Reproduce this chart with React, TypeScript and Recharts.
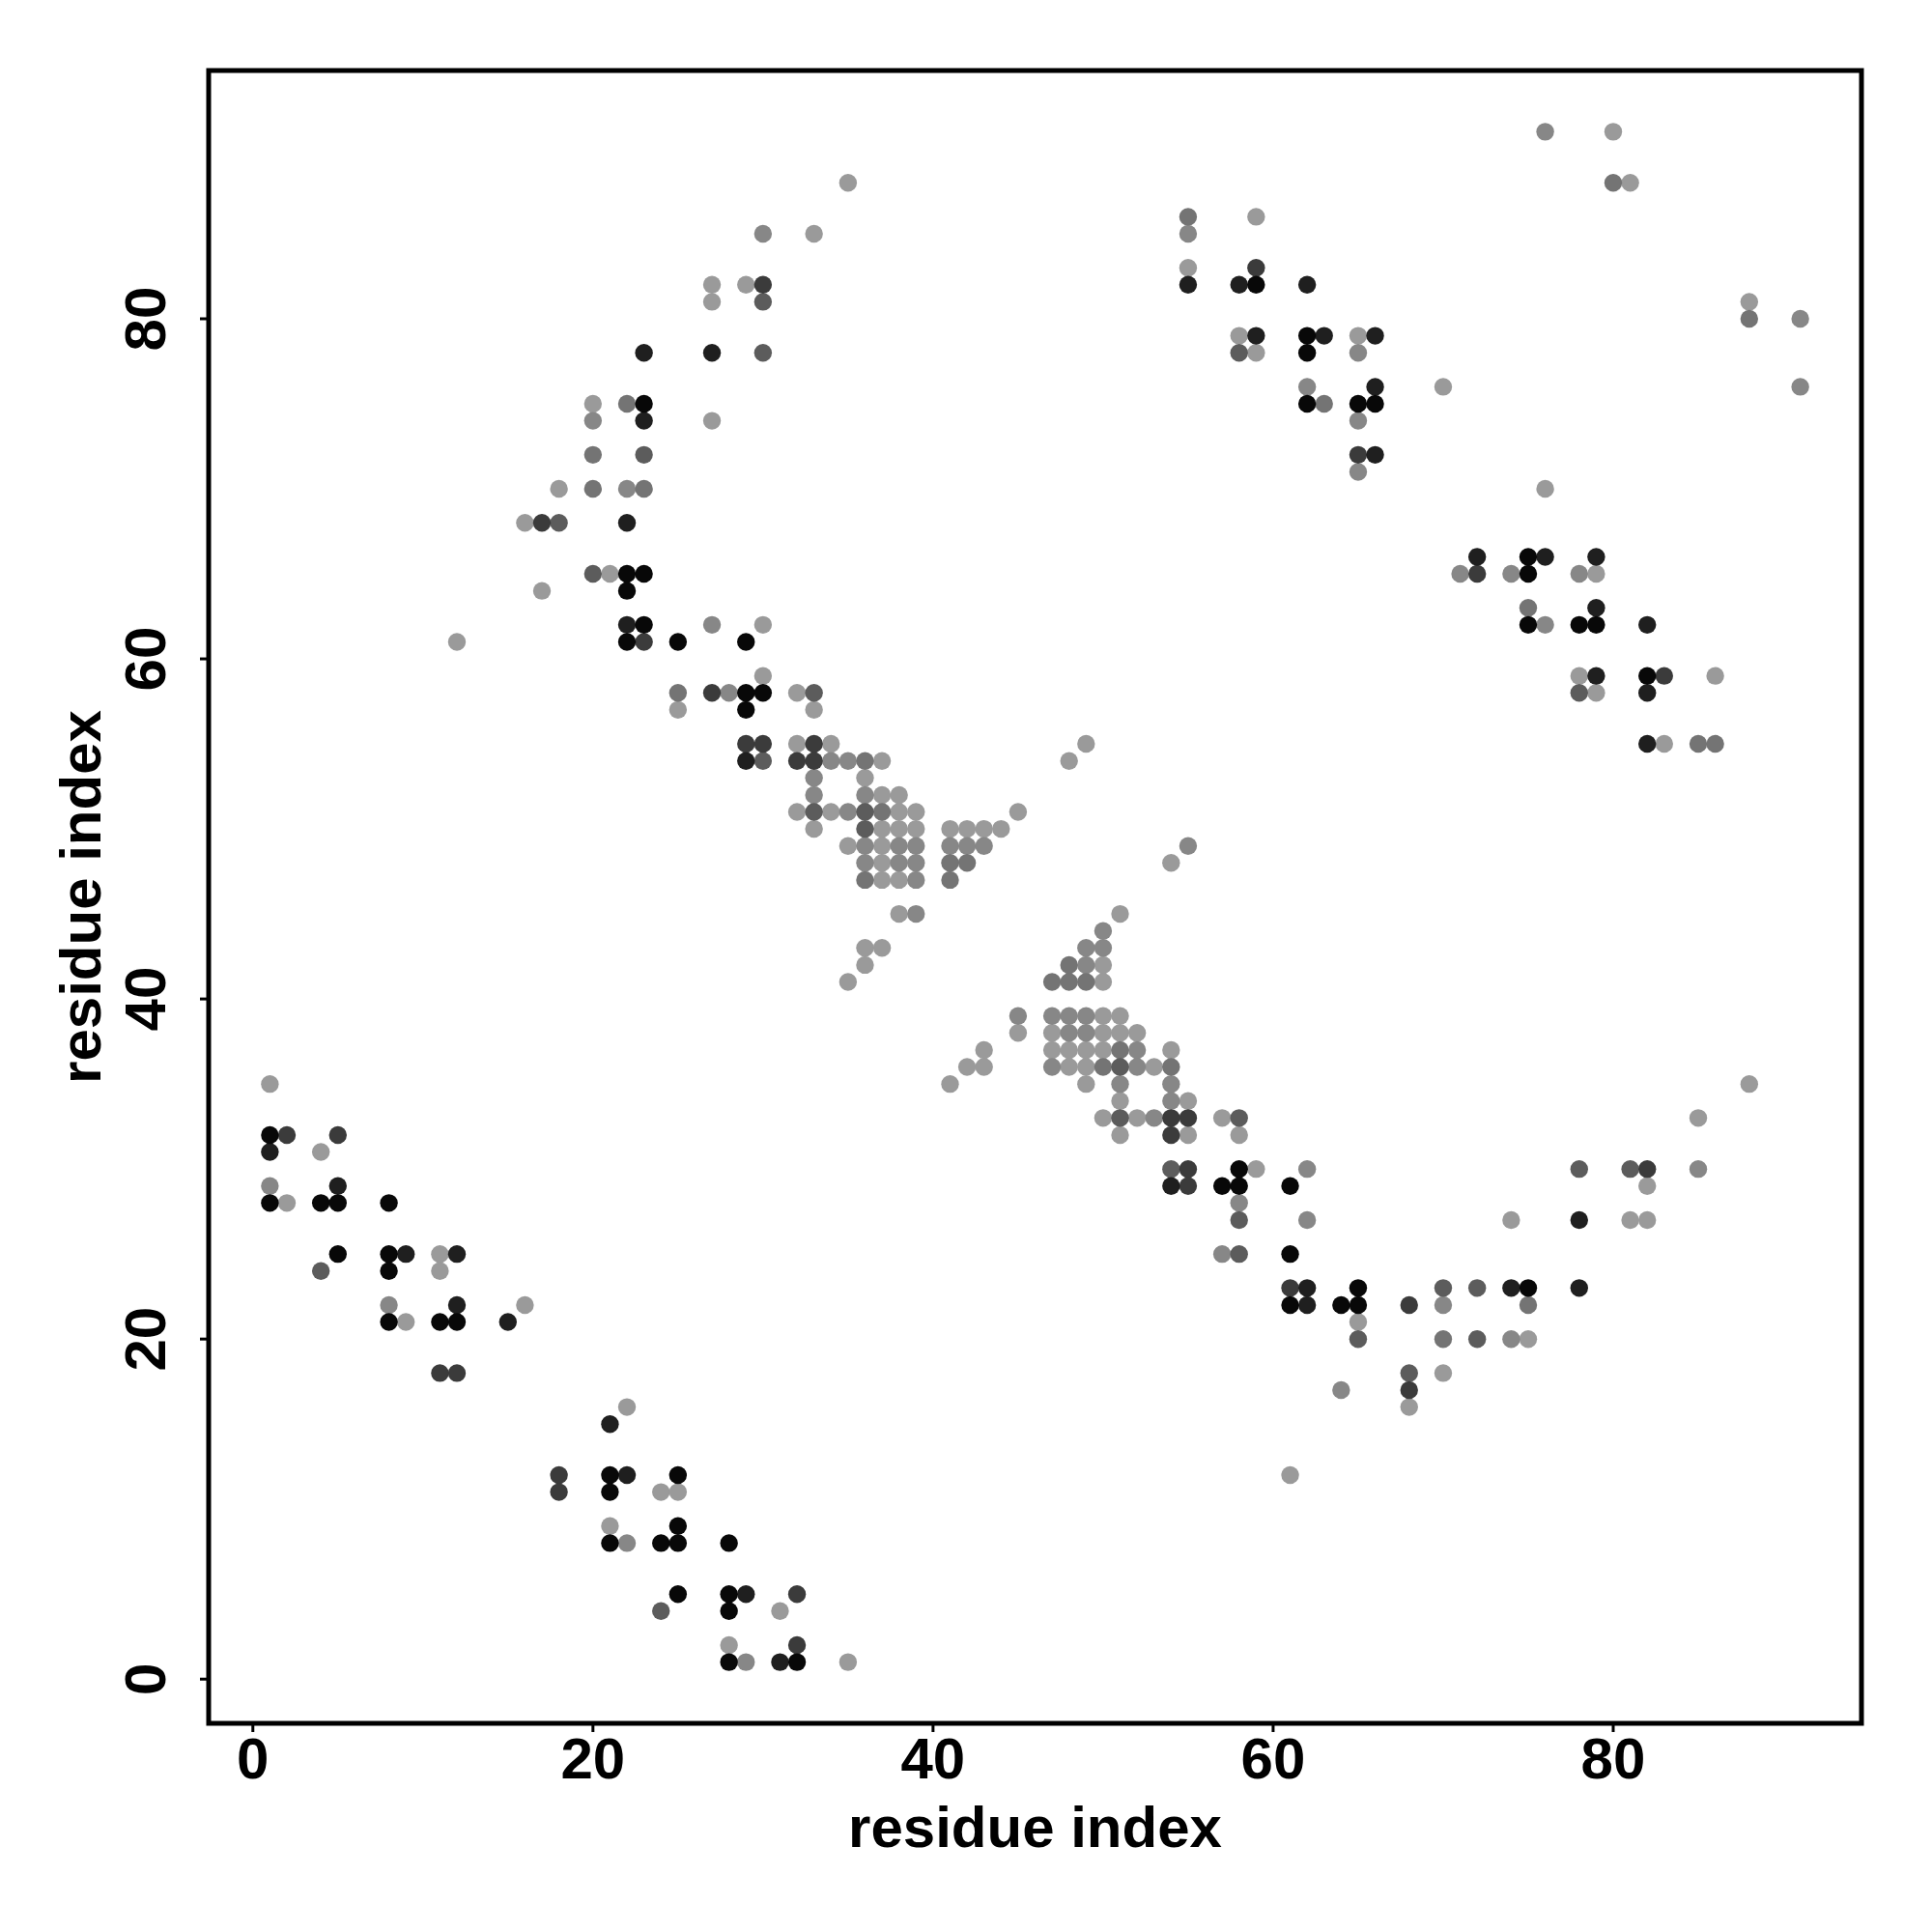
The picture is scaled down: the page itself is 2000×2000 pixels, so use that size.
import { ScatterChart, Scatter, XAxis, YAxis, ReferenceArea, Customized } from 'recharts';

// contact map: [i, j] residue pairs, grouped by grey shade (darker = stronger)
const blackPairs: [number, number][] = [
  [1, 32], [1, 28], [4, 28], [5, 28], [8, 28], [5, 25], [8, 25], [8, 24], [8, 21], [11, 21], [12, 21],
  [21, 12], [21, 11], [25, 12], [21, 8], [25, 9], [24, 8], [25, 8], [28, 8], [25, 5], [28, 5], [28, 4],
  [28, 1], [32, 1],
  [23, 75], [22, 65], [23, 65], [22, 64], [23, 62], [22, 61], [25, 61], [29, 61], [29, 58], [30, 58], [29, 57],
  [58, 30], [57, 29], [58, 29], [61, 29], [61, 25], [61, 22], [64, 22], [65, 23], [65, 22], [75, 23],
  [59, 82], [62, 79], [62, 78], [62, 75], [65, 75], [66, 75],
  [75, 66], [75, 65], [75, 62], [78, 62], [79, 62], [82, 59],
];

const nearBlackPairs: [number, number][] = [
  [1, 31], [5, 29], [9, 25], [12, 25], [12, 22], [15, 21],
  [21, 15], [22, 12], [29, 5], [31, 1],
  [23, 78], [27, 78], [23, 74], [22, 68], [22, 62], [29, 54],
  [54, 29], [62, 23], [62, 22], [78, 27], [74, 23], [78, 23],
  [55, 82], [58, 82], [62, 82], [59, 79], [63, 79], [66, 79], [66, 76], [66, 72],
  [72, 66], [76, 66], [79, 66], [79, 63], [82, 62], [79, 59], [82, 58], [82, 55],
];

const darkPairs: [number, number][] = [
  [2, 32], [5, 32], [11, 18], [12, 18], [18, 12], [18, 11], [32, 5], [32, 2],
  [30, 82], [17, 68], [23, 61], [27, 58], [29, 55], [30, 55], [33, 55], [32, 54], [33, 54],
  [54, 33], [55, 33], [54, 32], [55, 30], [55, 29], [61, 23], [68, 22], [68, 17], [82, 30],
  [59, 83], [65, 72], [72, 65], [83, 59],
];

const midDarkPairs: [number, number][] = [
  [4, 24], [24, 4], [30, 81], [30, 78], [23, 72], [18, 68], [20, 65], [33, 58], [30, 54],
  [33, 51], [36, 51], [36, 50], [51, 36], [51, 33], [58, 33], [54, 30], [58, 27], [58, 25],
  [65, 20], [70, 23], [68, 18], [78, 30], [81, 30], [72, 23], [72, 20], [58, 78], [78, 58],
];

const midPairs: [number, number][] = [
  [22, 75], [20, 72], [20, 70], [23, 70], [25, 58], [36, 54], [37, 51], [36, 47], [41, 48], [42, 48],
  [41, 47], [48, 42], [47, 41], [48, 41], [49, 41], [51, 37], [50, 36], [54, 36], [70, 20], [75, 22],
  [55, 86], [63, 75], [75, 63], [85, 55], [86, 55], [80, 88], [88, 80],
];

const greyPairs: [number, number][] = [
  [1, 29], [8, 22], [22, 8], [29, 1], [30, 85], [20, 74], [22, 70], [27, 62], [28, 58], [34, 54], [35, 54],
  [33, 53], [33, 52], [36, 52], [35, 51], [36, 49], [38, 49], [39, 49], [36, 48], [38, 48], [39, 48],
  [39, 47], [41, 49], [42, 49], [43, 49], [39, 45],
  [55, 49], [50, 44], [49, 43], [50, 43], [49, 42], [45, 39], [47, 39], [48, 39], [49, 39], [48, 38],
  [49, 38], [52, 37], [47, 36], [52, 36], [51, 35], [54, 35], [54, 34], [53, 33], [58, 28], [62, 30],
  [62, 27], [57, 25], [70, 22], [64, 17], [85, 30], [74, 20],
  [55, 85], [65, 78], [62, 76], [65, 74], [65, 71], [71, 65], [74, 65], [78, 65], [76, 62],
  [76, 91], [91, 80], [91, 76],
];

const lightPairs: [number, number][] = [
  [1, 35], [4, 31], [2, 28], [11, 25], [11, 24], [9, 21], [16, 22],
  [22, 16], [24, 11], [25, 11], [21, 9], [31, 4], [28, 2], [35, 1],
  [35, 88], [33, 85], [27, 82], [29, 82], [27, 81], [20, 75], [27, 74], [18, 70], [16, 68], [21, 65],
  [17, 64], [12, 61], [30, 62], [30, 59], [25, 57], [32, 58], [33, 57], [32, 55], [34, 55],
  [37, 54], [36, 53], [37, 52], [38, 52], [32, 51], [34, 51], [38, 51], [39, 51], [33, 50], [37, 50],
  [38, 50], [39, 50], [35, 49], [37, 49], [37, 48], [37, 47], [38, 47], [41, 50], [42, 50], [43, 50],
  [44, 50], [45, 51], [38, 45], [36, 43], [37, 43], [36, 42], [35, 41], [49, 55], [48, 54],
  [54, 48], [51, 45], [50, 42], [50, 41], [45, 38], [50, 39], [51, 39], [47, 38], [50, 38], [51, 38],
  [52, 38], [47, 37], [48, 37], [49, 37], [50, 37], [54, 37], [48, 36], [49, 36], [53, 36], [49, 35],
  [51, 34], [55, 34], [50, 33], [52, 33], [51, 32], [55, 32], [57, 33], [58, 32], [59, 30],
  [43, 37], [42, 36], [43, 36], [41, 35],
  [65, 21], [70, 18], [68, 16], [61, 12], [88, 35], [85, 33], [82, 29], [74, 27], [81, 27], [82, 27],
  [75, 20],
  [59, 86], [55, 83], [58, 79], [59, 78], [65, 79], [70, 76], [76, 70], [79, 65], [78, 59], [79, 58],
  [86, 59], [83, 55], [80, 91], [81, 88], [88, 81],
];

const shades = [
  { name: 'light', pairs: lightPairs, color: '#9a9a9a' },
  { name: 'grey', pairs: greyPairs, color: '#878787' },
  { name: 'mid', pairs: midPairs, color: '#747474' },
  { name: 'midDark', pairs: midDarkPairs, color: '#5c5c5c' },
  { name: 'dark', pairs: darkPairs, color: '#3b3b3b' },
  { name: 'nearBlack', pairs: nearBlackPairs, color: '#1f1f1f' },
  { name: 'black', pairs: blackPairs, color: '#080808' },
];

const ticks = [0, 20, 40, 60, 80];
const domain: [number, number] = [-2.6, 94.6];
const axisTitle = 'residue index';

const font = '"Liberation Sans", Arial, Helvetica, sans-serif';

const XTick = ({ x, y, payload }: any) => (
  <text x={x} y={y + 48} textAnchor="middle" fontFamily={font} fontWeight="bold" fontSize={60} fill="#000">
    {payload.value}
  </text>
);

const YTick = ({ x, y, payload }: any) => (
  <text
    transform={`translate(${x - 36},${y}) rotate(-90)`}
    textAnchor="middle"
    fontFamily={font}
    fontWeight="bold"
    fontSize={60}
    fill="#000"
  >
    {payload.value}
  </text>
);

const Titles = () => (
  <g>
    <text x={1071.5} y={1912} textAnchor="middle" fontFamily={font} fontWeight="bold" fontSize={60} fill="#000">
      {axisTitle}
    </text>
    <text
      transform="translate(104,928.5) rotate(-90)"
      textAnchor="middle"
      fontFamily={font}
      fontWeight="bold"
      fontSize={60}
      fill="#000"
    >
      {axisTitle}
    </text>
  </g>
);

export default function App() {
  return (
    <div style={{ position: 'absolute', left: 0, top: 0, width: 2000, height: 2000, background: '#fff' }}>
      <ScatterChart width={2000} height={2000} margin={{ top: 73, right: 73, bottom: 0, left: 0 }}>
        <XAxis
          type="number"
          dataKey="x"
          domain={domain}
          ticks={ticks}
          allowDataOverflow
          height={216}
          axisLine={false}
          tickLine={{ stroke: '#000', strokeWidth: 3 }}
          tickSize={9}
          tickMargin={0}
          tick={<XTick />}
          interval={0}
        />
        <YAxis
          type="number"
          dataKey="y"
          domain={domain}
          ticks={ticks}
          allowDataOverflow
          width={216}
          axisLine={false}
          tickLine={{ stroke: '#000', strokeWidth: 3 }}
          tickSize={9}
          tickMargin={0}
          tick={<YTick />}
          interval={0}
        />
        {shades.map((s) => (
          <Scatter
            key={s.name}
            name={s.name}
            data={s.pairs.map(([x, y]) => ({ x, y }))}
            isAnimationActive={false}
            shape={(p: any) => <circle cx={p.cx} cy={p.cy} r={9.2} fill={s.color} />}
          />
        ))}
        <ReferenceArea
          x1={domain[0]}
          x2={domain[1]}
          y1={domain[0]}
          y2={domain[1]}
          fill="none"
          fillOpacity={0}
          stroke="#000"
          strokeWidth={5}
          ifOverflow="visible"
        />
        <Customized component={Titles} />
      </ScatterChart>
    </div>
  );
}
